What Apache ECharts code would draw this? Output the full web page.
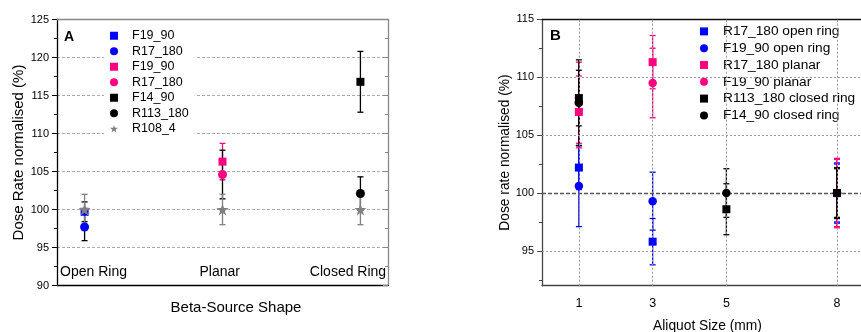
<!DOCTYPE html>
<html><head><meta charset="utf-8">
<script src="https://cdn.jsdelivr.net/npm/echarts@6/dist/echarts.min.js"></script>
<style>html,body{margin:0;padding:0;background:#fff}#c{width:861px;height:332px}</style>
</head><body><div id="c"></div>
<script>
// ---------- Panel A data ----------
const shapeCategories = ['Open Ring', 'Planar', 'Closed Ring'];
const shapeX = [1, 2, 3];
const yTicksA = [90, 95, 100, 105, 110, 115, 120, 125];
const aF19_90_open      = [99.7, null, null];
const aF19_90_open_err  = [1.3, null, null];
const aR17_180_open     = [97.7, null, null];
const aR17_180_open_err = [1.8, null, null];
const aF19_90_planar      = [null, 106.3, null];
const aF19_90_planar_err  = [null, 2.4, null];
const aR17_180_planar     = [null, 104.6, null];
const aR17_180_planar_err = [null, 3.2, null];
const aF14_90_closed      = [null, null, 116.8];
const aF14_90_closed_err  = [null, null, 4.0];
const aR113_180_closed     = [null, null, 102.1];
const aR113_180_closed_err = [null, null, 2.2];
const aR108_4     = [100, 100, 100];
const aR108_4_err = [2.0, 2.0, 2.0];

// ---------- Panel B data ----------
const aliquotSizes = [1, 3, 5, 8];
const yTicksB = [95, 100, 105, 110, 115];
const yMinorTicksB = [92.5, 97.5, 102.5, 107.5, 112.5];
const bR17_180_open      = [102.2, 95.8, null, 100];
const bR17_180_open_err  = [1.9, 2.0, null, 2.6];
const bF19_90_open       = [100.6, 99.3, null, 100];
const bF19_90_open_err   = [3.5, 2.5, null, 2.5];
const bR17_180_planar     = [107.0, 111.3, null, 100];
const bR17_180_planar_err = [3.1, 2.3, null, 3.0];
const bF19_90_planar      = [107.8, 109.5, null, 100];
const bF19_90_planar_err  = [3.5, 3.0, null, 2.9];
const bR113_180_closed     = [108.2, null, 98.6, 100];
const bR113_180_closed_err = [2.4, null, 2.2, 2.2];
const bF14_90_closed       = [107.8, null, 100.0, 100];
const bF14_90_closed_err   = [3.7, null, 2.1, 2.1];

// ---------- styles ----------
const BLUE = '#0000ff', PINK = '#ff0080', BLACK = '#000000', GRAY = '#808080';
const FONT = 'Liberation Sans';
const STAR = 'path://M50,0 L61.8,35.1 L98.9,35.1 L69,56.9 L80.4,92.1 L50,70.3 L19.6,92.1 L31,56.9 L1.1,35.1 L38.2,35.1 Z';

function pts(xs, vals) {
  const out = [];
  xs.forEach((x, i) => { if (vals[i] != null) out.push([x, vals[i]]); });
  return out;
}
function errs(xs, vals, es) {
  const out = [];
  xs.forEach((x, i) => { if (vals[i] != null && es[i] != null) out.push([x, vals[i] - es[i], vals[i] + es[i]]); });
  return out;
}
function scatter(name, xs, vals, color, symbol, size, gi) {
  return { type: 'scatter', name, xAxisIndex: gi, yAxisIndex: gi, data: pts(xs, vals),
    symbol, symbolSize: size, itemStyle: { color, opacity: 1 }, z: 5, silent: true };
}
function errBar(name, xs, vals, es, color, gi) {
  return { type: 'custom', name: name + '__err', xAxisIndex: gi, yAxisIndex: gi, z: 4, silent: true,
    data: errs(xs, vals, es), encode: { x: 0, y: [1, 2] },
    renderItem(params, api) {
      const x = api.value(0), lo = api.value(1), hi = api.value(2);
      const p1 = api.coord([x, lo]), p2 = api.coord([x, hi]); const w = 3;
      const st = { stroke: color, lineWidth: 1.3 };
      return { type: 'group', children: [
        { type: 'line', shape: { x1: p1[0], y1: p1[1], x2: p2[0], y2: p2[1] }, style: st },
        { type: 'line', shape: { x1: p1[0] - w, y1: p1[1], x2: p1[0] + w, y2: p1[1] }, style: st },
        { type: 'line', shape: { x1: p2[0] - w, y1: p2[1], x2: p2[0] + w, y2: p2[1] }, style: st }
      ]};
    } };
}

const defsA = [
  ['F19_90',   aF19_90_open,    aF19_90_open_err,    BLUE,  'rect',   8, BLACK],
  ['R17_180',  aR17_180_open,   aR17_180_open_err,   BLUE,  'circle', 9, BLACK],
  ['F19_90 ',  aF19_90_planar,  aF19_90_planar_err,  PINK,  'rect',   8, PINK],
  ['R17_180 ', aR17_180_planar, aR17_180_planar_err, PINK,  'circle', 9, BLACK],
  ['F14_90',   aF14_90_closed,  aF14_90_closed_err,  BLACK, 'rect',   8, BLACK],
  ['R113_180', aR113_180_closed,aR113_180_closed_err,BLACK, 'circle', 9, BLACK],
  ['R108_4',   aR108_4,         aR108_4_err,         GRAY,  STAR,    12, GRAY]
];
const defsB = [
  ['R17_180 open ring',    bR17_180_open,    bR17_180_open_err,    BLUE,  'rect',   8],
  ['F19_90 open ring',     bF19_90_open,     bF19_90_open_err,     BLUE,  'circle', 8.5],
  ['R17_180 planar',       bR17_180_planar,  bR17_180_planar_err,  PINK,  'rect',   8],
  ['F19_90 planar',        bF19_90_planar,   bF19_90_planar_err,   PINK,  'circle', 8.5],
  ['R113_180 closed ring', bR113_180_closed, bR113_180_closed_err, BLACK, 'rect',   8],
  ['F14_90 closed ring',   bF14_90_closed,   bF14_90_closed_err,   BLACK, 'circle', 8.5]
];

const series = [];
defsA.forEach(d => { series.push(errBar(d[0], shapeX, d[1], d[2], d[6], 0)); });
defsA.forEach(d => { series.push(scatter(d[0], shapeX, d[1], d[3], d[4], d[5], 0)); });
defsB.forEach(d => { series.push(errBar(d[0], aliquotSizes, d[1], d[2], d[3], 1)); });
defsB.forEach(d => { series.push(scatter(d[0], aliquotSizes, d[1], d[3], d[4], d[5], 1)); });

// Panel B grid lines (drawn at tick values)
const dotted = { color: '#9a9a9a', width: 1, type: [2, 2] };
series.push({ type: 'scatter', name: '__gridB', xAxisIndex: 1, yAxisIndex: 1, data: [], z: 1, silent: true,
  markLine: { silent: true, symbol: 'none', label: { show: false }, animation: false,
    data: [
      ...aliquotSizes.map(v => ({ xAxis: v, lineStyle: dotted })),
      ...yTicksB.filter(v => v !== 100 && v !== 115).map(v => ({ yAxis: v, lineStyle: dotted })),
      { yAxis: 100, lineStyle: { color: '#555', width: 1.3, type: [4, 2] } }
    ] } });

const labelPosA = [1.065, 1.98, 2.91]; // layout: label anchor positions

const option = {
  animation: false,
  backgroundColor: '#fff',
  textStyle: { fontFamily: FONT },
  title: [
    { text: 'A', left: 64, top: 30, padding: 0, textStyle: { fontFamily: FONT, fontWeight: 'bold', fontSize: 14, color: '#000' } },
    { text: 'B', left: 550, top: 28, padding: 0, textStyle: { fontFamily: FONT, fontWeight: 'bold', fontSize: 15, color: '#000' } }
  ],
  grid: [
    { left: 57, top: 19.5, width: 331, height: 266, outerBoundsMode: 'none', containLabel: false },
    { left: 542, top: 19.3, width: 319, height: 266.4, outerBoundsMode: 'none', containLabel: false }
  ],
  legend: [
    { data: defsA.map(d => d[0]), orient: 'vertical', left: 104, top: 26, padding: [2, 6, 2, 6],
      backgroundColor: '#fff', itemWidth: 8, itemHeight: 8, itemGap: 0, z: 4,
      textStyle: { fontFamily: FONT, fontSize: 12.5, color: '#000', lineHeight: 15.5, padding: [0, 0, 0, 9] } },
    { data: defsB.map(d => d[0]), orient: 'vertical', left: 685, top: 22, padding: [1, 10, 2, 15],
      backgroundColor: '#fff', itemWidth: 8, itemHeight: 8, itemGap: 0, z: 4,
      textStyle: { fontFamily: FONT, fontSize: 13.7, color: '#000', lineHeight: 16.8, padding: [0, 0, 0, 10] } }
  ],
  xAxis: [
    { type: 'value', gridIndex: 0, min: 0.8, max: 3.2, position: 'bottom',
      name: 'Beta-Source Shape', nameLocation: 'middle', nameGap: 15,
      nameTextStyle: { fontFamily: FONT, fontSize: 15, color: '#000', padding: [0, 0, 0, 27] },
      axisLine: { show: true, lineStyle: { color: '#000', width: 1.3 } },
      axisTick: { show: false }, splitLine: { show: false },
      axisLabel: { inside: true, margin: 6, customValues: labelPosA, fontSize: 14, color: '#000', fontFamily: FONT,
        formatter: v => shapeCategories[shapeX.indexOf(Math.round(v))] } },
    { type: 'value', gridIndex: 1, min: 0, max: 8.65, position: 'bottom',
      name: 'Aliquot Size (mm)', nameLocation: 'middle', nameGap: 33,
      nameTextStyle: { fontFamily: FONT, fontSize: 13.8, color: '#000', padding: [0, 0, 0, 12] },
      axisLine: { show: true, lineStyle: { color: '#444', width: 1.3 } },
      axisTick: { show: false }, splitLine: { show: false },
      axisLabel: { customValues: aliquotSizes, margin: 11, fontSize: 12.5, color: '#000', fontFamily: FONT } },
    { type: 'value', gridIndex: 0, min: 0.8, max: 3.2, position: 'top',
      axisLine: { show: true, lineStyle: { color: '#888', width: 1.3 } },
      axisTick: { show: false }, axisLabel: { show: false }, splitLine: { show: false } },
    { type: 'value', gridIndex: 1, min: 0, max: 8.65, position: 'top',
      axisLine: { show: true, lineStyle: { color: '#111', width: 1.3 } },
      axisTick: { show: false }, axisLabel: { show: false }, splitLine: { show: false } }
  ],
  yAxis: [
    { type: 'value', gridIndex: 0, min: 90, max: 125, interval: 5, position: 'left',
      name: 'Dose Rate normalised (%)', nameLocation: 'middle', nameGap: 30,
      nameTextStyle: { fontFamily: FONT, fontSize: 15, color: '#000' },
      axisLine: { show: true, lineStyle: { color: '#000', width: 1.3 } },
      axisTick: { show: true, inside: false, length: 5, lineStyle: { color: '#000' } },
      minorTick: { show: true, splitNumber: 2, length: 3, lineStyle: { color: '#000' } },
      axisLabel: { margin: 8, fontSize: 11, color: '#000', fontFamily: FONT },
      splitLine: { show: true, lineStyle: { color: '#aaa', width: 1.2, type: [3, 2] } } },
    { type: 'value', gridIndex: 1, min: 92, max: 115, position: 'left',
      name: 'Dose rate normalised (%)', nameLocation: 'middle', nameGap: 30,
      nameTextStyle: { fontFamily: FONT, fontSize: 13.8, color: '#000' },
      axisLine: { show: true, lineStyle: { color: '#444', width: 1.3 } },
      axisTick: { show: true, inside: false, length: 5, customValues: yTicksB, lineStyle: { color: '#444' } },
      axisLabel: { margin: 8, customValues: yTicksB, fontSize: 11, color: '#000', fontFamily: FONT },
      splitLine: { show: false } },
    { type: 'value', gridIndex: 0, min: 90, max: 125, interval: 5, position: 'right',
      axisLine: { show: true, lineStyle: { color: '#888', width: 1.3 } },
      axisTick: { show: true, inside: true, length: 5, lineStyle: { color: '#888' } },
      minorTick: { show: true, splitNumber: 2, length: 3, lineStyle: { color: '#888' } },
      axisLabel: { show: false }, splitLine: { show: false } },
    { type: 'value', gridIndex: 1, min: 92, max: 115, position: 'left',
      axisLine: { show: false },
      axisTick: { show: true, inside: false, length: 3, customValues: yMinorTicksB, lineStyle: { color: '#444' } },
      axisLabel: { show: false }, splitLine: { show: false } }
  ],
  series
};
const chart = echarts.init(document.getElementById('c'), null, { renderer: 'canvas' });
chart.setOption(option);
</script></body></html>
